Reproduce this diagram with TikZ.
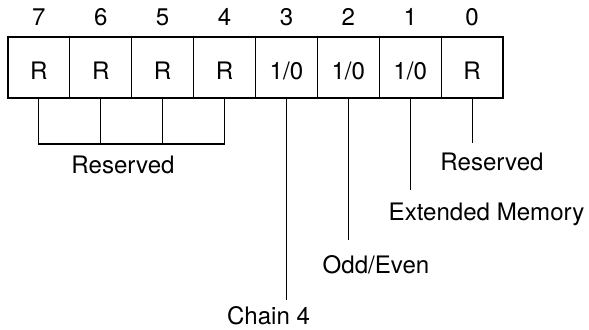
\documentclass[tikz,border=0pt]{standalone}
\usepackage{fontspec}
\setmainfont{TeX Gyre Heros}
\tikzset{
	cell/.style={draw, line width=0.6pt, minimum width=1.2375cm, minimum height=1.22cm, inner sep=0pt},
	lbl/.style={anchor=base, inner sep=0pt, font=\fontsize{13.7}{16}\selectfont},
	lead/.style={line width=0.6pt}
}
\begin{document}
\begin{tikzpicture}
	\useasboundingbox (0,0) rectangle (11.78,-6.58);
	
	%Registro
	\foreach \bit/\val [count=\i from 0] in {7/R, 6/R, 5/R, 4/R, 3/{1/0}, 2/{1/0}, 1/{1/0}, 0/R}{
		\node[cell] (b\bit) at ({0.16+(\i+0.5)*1.2375},-1.35) {};
		\node[lbl, yshift=-0.23cm] (v\bit) at (b\bit.center) {\val};
		\node[lbl, yshift=0.21cm] (n\bit) at (b\bit.north) {\bit};
	}
	
	%Reservados 7-4
	\coordinate (bar) at (0,-2.88);
	\draw[lead] (b7.south) |- (b4.south |- bar) -- (b4.south);
	\foreach \b in {6,5}
		\draw[lead] (b\b.south) -- (b\b.south |- bar);
	\node[lbl] (rsvA) at (2.46,-3.47) {Reserved};
	
	%Etiquetas
	\node[lbl] (chain) at (5.37,-6.48) {Chain 4};
	\node[lbl] (oddeven) at (7.52,-5.46) {Odd/Even};
	\node[lbl] (extmem) at (9.73,-4.40) {Extended Memory};
	\node[lbl] (rsvB) at (9.84,-3.40) {Reserved};
	
	\coordinate (end3) at (0,-6.00);
	\coordinate (end2) at (0,-4.80);
	\coordinate (end1) at (0,-3.80);
	\coordinate (end0) at (0,-2.86);
	\foreach \b in {3,2,1,0}
		\draw[lead] (b\b.south) -- (b\b.south |- end\b);
\end{tikzpicture}
\end{document}
